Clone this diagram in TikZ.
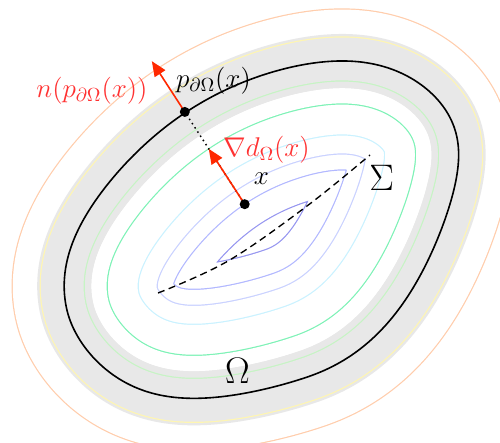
\RequirePackage{fix-cm}
\documentclass[tikz,border=0pt]{standalone}
\usetikzlibrary{arrows.meta,calc}
\definecolor{orng}{RGB}{255,205,172}
\definecolor{yel}{RGB}{255,246,178}
\definecolor{lgrn}{RGB}{198,244,196}
\definecolor{grn}{RGB}{125,242,182}
\definecolor{cya}{RGB}{202,242,255}
\definecolor{lav}{RGB}{202,210,255}
\definecolor{blu}{RGB}{178,184,255}
\definecolor{lensc}{RGB}{150,150,240}
\definecolor{bandc}{RGB}{232,232,232}
\definecolor{redtxt}{RGB}{255,50,50}
\definecolor{redarr}{RGB}{255,40,0}
\tikzset{
  declare function={
    cc(\s)=cos(\s)*cos(\s);
    uu(\s)=6+216*cos(\s);
    vv(\s)=1+147*sin(\s)*(1-(0.08+0.12*sin(\s)*sin(\s))*cc(\s))+30*cc(\s)*(1-0.5*cc(\s)*cc(\s))-8*(cos(\s)>0)*cc(\s)*cos(\s)-16*(abs(\s-213)<45)*cos(2*(\s-213))*cos(2*(\s-213));
    px(\s)=264+0.8387*uu(\s)-0.5446*vv(\s);
    py(\s)=238-0.5446*uu(\s)-0.8387*vv(\s);
  },
  bndline/.style={line width=0.32mm, black, line join=round},
  sigma/.style={line width=0.27mm, dash pattern=on 1.4mm off 0.9mm},
  arr/.style={redarr, line width=0.32mm, -{Triangle[length=3mm,width=2.5mm]}},
  dot/.style={fill=black},
  redlab/.style={text=redtxt, font=\fontsize{15.4}{18}\selectfont, inner sep=0pt},
  blklab/.style={text=black, font=\fontsize{15.4}{18}\selectfont, inner sep=0pt},
  biglab/.style={text=black, font=\fontsize{21}{25}\selectfont, inner sep=0pt},
}
\def\bndpath{plot[smooth cycle,domain=1:358,samples=120,variable=\s]({px(\s)},{py(\s)})}
\begin{document}
\begin{tikzpicture}[x=0.2mm,y=-0.2mm,line join=round]
\useasboundingbox (0,0) rectangle (500,442);
\fill[white] (0,0) rectangle (500,442);
% outer level set (+52)
\draw[orng, line width={104*0.2mm+0.24mm}] \bndpath;
\draw[white, line width={104*0.2mm-0.24mm}] \bndpath;
\fill[white] \bndpath;
% inner level sets
\begin{scope}
  \clip \bndpath;
  \foreach \d/\c in {134/lensc,109/blu,93/lav,74/cya,43/grn}{
    \draw[\c, line width={2*\d*0.2mm+0.24mm}] \bndpath;
    \draw[white, line width={2*\d*0.2mm-0.24mm}] \bndpath;
  }
\end{scope}
% grey band and the two nearest level sets
\draw[bandc, line width={54*0.2mm}] \bndpath;
\draw[yel, line width={48*0.2mm+0.24mm}] \bndpath;
\draw[bandc, line width={48*0.2mm-0.24mm}] \bndpath;
\begin{scope}
  \clip \bndpath;
  \draw[bandc, line width={54*0.2mm}] \bndpath;
  \draw[lgrn, line width={40*0.2mm+0.24mm}] \bndpath;
  \draw[bandc, line width={40*0.2mm-0.24mm}] \bndpath;
\end{scope}
\draw[bndline] \bndpath;
% medial axis
\draw[sigma] plot[smooth, tension=0.6] coordinates {(158,293) (228,261) (307,206) (370,155)};
% points
\coordinate (p) at (184.8,111.9);
\coordinate (x) at (244.7,204.2);
\coordinate (gtip) at ($(x)!0.6!(p)$);
\coordinate (ntip) at ($(p)!-0.55!(x)$);
\draw[line width=0.3mm, dotted] (x) -- (p);
\draw[arr] (x) -- (gtip);
\draw[arr] (p) -- (ntip);
\fill[dot] (x) circle (1mm);
\fill[dot] (p) circle (1mm);
% labels
\node[redlab] (nlab) at (92,91) {$n(p_{\partial\Omega}(x))$};
\node[blklab] (plab) at (213.5,81) {$p_{\partial\Omega}(x)$};
\node[redlab] (glab) at (266.5,149.5) {$\nabla d_{\Omega}(x)$};
\node[blklab] (xlab) at (261.5,178.5) {$x$};
\node[biglab] (slab) at (381.7,178.3) {$\Sigma$};
\node[biglab] (olab) at (237.5,370.5) {$\Omega$};
\end{tikzpicture}
\end{document}
